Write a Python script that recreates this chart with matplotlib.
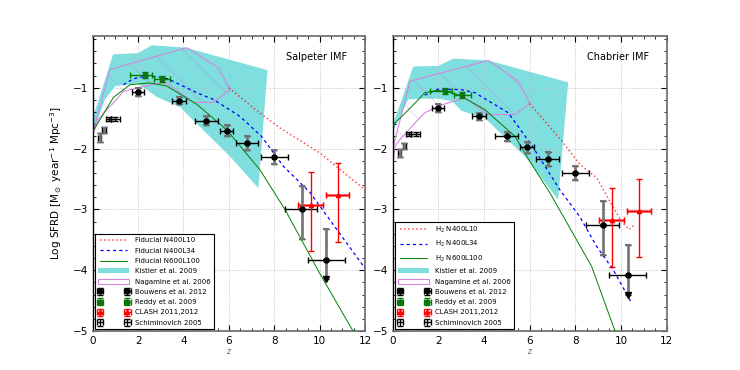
import matplotlib
matplotlib.use('Agg')
from matplotlib import pyplot as plt
from matplotlib.patches import Polygon, Patch
from matplotlib.ticker import MultipleLocator

# Kistler et al. 2009 band outline (Salpeter / Chabrier)
kistler_sal_z = [0.0, 0.9, 2.0, 2.6, 4.1, 7.7, 7.3, 6.05, 3.85, 2.82, 2.0, 1.0, 0.54, 0.0]
kistler_sal_y = [-1.5, -0.45, -0.43, -0.30, -0.34, -0.71, -2.65, -2.13, -1.32, -1.15, -0.93, -0.97, -1.19, -1.75]
kistler_cha_z = [0.0, 0.9, 2.0, 2.65, 4.19, 7.69, 7.25, 5.8, 4.04, 3.02, 2.6, 2.0, 1.27, 0.68, 0.0]
kistler_cha_y = [-1.62, -0.65, -0.64, -0.52, -0.55, -0.91, -2.84, -2.13, -1.5, -1.38, -1.22, -1.18, -1.18, -1.19, -1.72]

# Nagamine et al. 2006 outline
nag_sal_z = [0.0, 0.76, 4.14, 5.53, 6.05, 5.31, 4.43, 3.26, 2.8, 1.35, 0.91, 0.62, 0.25, 0.0]
nag_sal_y = [-1.75, -0.70, -0.34, -0.67, -1.03, -1.24, -1.24, -0.92, -0.93, -1.06, -1.25, -1.36, -1.52, -1.78]
nag_cha_z = [0.0, 0.76, 4.19, 5.5, 6.01, 5.36, 4.19, 3.17, 2.0, 1.41, 1.12, 0.32, 0.1, 0.0]
nag_cha_y = [-2.0, -0.89, -0.55, -0.89, -1.26, -1.44, -1.44, -1.16, -1.3, -1.41, -1.52, -1.85, -1.96, -2.3]

# simulations, Salpeter panel
l10_sal_z = [6.0, 7.07, 8.25, 10.0, 12.0]
l10_sal_y = [-1.0, -1.33, -1.66, -2.07, -2.68]
l34_sal_z = [1.35, 1.8, 2.5, 3.3, 4.58, 5.31, 5.9, 6.49, 7.44, 8.4, 9.57, 12.0]
l34_sal_y = [-0.95, -0.85, -0.8, -0.85, -1.08, -1.19, -1.33, -1.47, -1.8, -2.29, -2.72, -3.97]
l100_sal_z = [0.0, 0.91, 1.64, 2.52, 3.26, 4.58, 5.9, 7.37, 8.47, 10.0, 11.5]
l100_sal_y = [-1.72, -1.16, -0.95, -0.92, -0.97, -1.27, -1.69, -2.35, -3.0, -4.05, -5.02]

# simulations, Chabrier panel
l10_cha_z = [6.0, 7.4, 8.2, 8.94, 9.52, 10.03, 10.37, 10.6]
l10_cha_y = [-1.26, -1.87, -2.26, -2.48, -2.87, -3.2, -3.33, -3.25]
l34_cha_z = [1.4, 2.0, 3.0, 3.6, 5.06, 6.1, 7.33, 8.2, 8.94, 9.66, 10.47]
l34_cha_y = [-1.12, -1.02, -1.03, -1.08, -1.41, -1.95, -2.68, -3.12, -3.61, -3.99, -4.54]
l100_cha_z = [0.0, 0.98, 1.41, 2.0, 2.87, 4.04, 5.36, 6.01, 6.89, 7.77, 8.72, 9.78]
l100_cha_y = [-1.62, -1.25, -1.08, -1.04, -1.11, -1.36, -1.8, -2.21, -2.73, -3.31, -3.94, -5.04]

# Bouwens et al. 2012
bouwens_z = [2.0, 3.8, 5.0, 5.9, 6.8, 8.0, 9.2, 10.3]
bouwens_zlo = [0.27, 0.32, 0.5, 0.3, 0.5, 0.6, 0.73, 0.8]
bouwens_zhi = [0.25, 0.31, 0.5, 0.3, 0.5, 0.6, 0.7, 0.8]
bouwens_sal = [-1.07, -1.21, -1.54, -1.71, -1.91, -2.14, -2.99, -3.83]
bouwens_sal_lo = [0.06, 0.06, 0.08, 0.09, 0.12, 0.12, 0.5, 0.32]
bouwens_sal_hi = [0.06, 0.06, 0.08, 0.09, 0.12, 0.12, 0.37, 0.51]
bouwens_cha = [-1.33, -1.47, -1.8, -1.98, -2.17, -2.4, -3.25, -4.08]
bouwens_cha_lo = [0.06, 0.06, 0.08, 0.09, 0.12, 0.12, 0.5, 0.32]
bouwens_cha_hi = [0.06, 0.06, 0.08, 0.09, 0.12, 0.12, 0.38, 0.5]

# Reddy et al. 2009
reddy_z = [2.3, 3.05]
reddy_zlo = [0.66, 0.37]
reddy_zhi = [0.3, 0.36]
reddy_sal = [-0.79, -0.86]
reddy_cha = [-1.06, -1.12]
reddy_err = [0.05, 0.05]

# CLASH 2011, 2012
clash_z = [9.6, 10.8]
clash_zlo = [0.54, 0.52]
clash_zhi = [0.53, 0.5]
clash_sal = [-2.92, -2.77]
clash_cha = [-3.18, -3.03]
clash_lo = [0.76, 0.76]
clash_hi = [0.53, 0.53]

# Schiminovich 2005
sch_z = [0.3, 0.5, 0.7, 1.0]
sch_zerr = [0.07, 0.07, 0.1, 0.2]
sch_sal = [-1.82, -1.69, -1.51, -1.51]
sch_cha = [-2.07, -1.96, -1.76, -1.76]
sch_err = [0.07, 0.05, 0.03, 0.03]

panels = [
    dict(kz=kistler_sal_z, ky=kistler_sal_y, nz=nag_sal_z, ny=nag_sal_y,
         lines=[(l10_sal_z, l10_sal_y), (l34_sal_z, l34_sal_y), (l100_sal_z, l100_sal_y)],
         bouwens=(bouwens_sal, bouwens_sal_lo, bouwens_sal_hi),
         reddy=reddy_sal, clash=clash_sal, sch=sch_sal,
         title='Salpeter IMF', prefix='Fiducial'),
    dict(kz=kistler_cha_z, ky=kistler_cha_y, nz=nag_cha_z, ny=nag_cha_y,
         lines=[(l10_cha_z, l10_cha_y), (l34_cha_z, l34_cha_y), (l100_cha_z, l100_cha_y)],
         bouwens=(bouwens_cha, bouwens_cha_lo, bouwens_cha_hi),
         reddy=reddy_cha, clash=clash_cha, sch=sch_cha,
         title='Chabrier IMF', prefix='H$_2$'),
]
sim_names = ['N400L10', 'N400L34', 'N600L100']
sim_styles = [dict(color='r', ls=':', lw=1.1, alpha=0.7),
              dict(color='b', ls='--', lw=0.9, dashes=(2.5, 2.5)),
              dict(color='g', ls='-', lw=0.7)]

fig = plt.figure(figsize=(7.4, 3.7), dpi=100)
axes = [fig.add_axes([0.1253, 0.1054, 0.368, 0.797]),
        fig.add_axes([0.5307, 0.1054, 0.370, 0.797])]

for ax, p in zip(axes, panels):
    kist = Polygon(list(zip(p['kz'], p['ky'])), closed=True, facecolor='c',
                   alpha=0.5, edgecolor='none', zorder=1)
    ax.add_patch(kist)
    hatch = Polygon(list(zip(p['nz'], p['ny'])), closed=True, fill=False,
                    hatch='\\', edgecolor=(0.75, 0.45, 0.85, 0.2), lw=0, zorder=2)
    ax.add_patch(hatch)
    nag = Polygon(list(zip(p['nz'], p['ny'])), closed=True, fill=False,
                  edgecolor='#d585e0', lw=0.8, zorder=2)
    ax.add_patch(nag)

    handles = []
    for (zz, yy), name, st in zip(p['lines'], sim_names, sim_styles):
        h, = ax.plot(zz, yy, label=p['prefix'] + ' ' + name, zorder=3, **st)
        handles.append(h)
    handles.append(Patch(facecolor='c', alpha=0.5, edgecolor='none',
                         label='Kistler et al. 2009'))
    handles.append(Patch(facecolor='none', edgecolor='#d585e0', lw=0.8,
                         label='Nagamine et al. 2006'))

    by, blo, bhi = p['bouwens']
    hb = ax.errorbar(bouwens_z, by, xerr=[bouwens_zlo, bouwens_zhi], yerr=[blo, bhi],
                     fmt='o', color='k', ms=3.5, elinewidth=1.0, capsize=2,
                     label='Bouwens et al. 2012', zorder=5)
    ax.errorbar(bouwens_z, by, yerr=[blo, bhi], fmt='none', ecolor='0.45',
                elinewidth=1.8, capsize=2, capthick=1.5, zorder=6)
    ax.plot(bouwens_z, by, 'o', color='k', ms=3.5, zorder=7)
    ax.plot(bouwens_z[-1:], [by[-1] - blo[-1]], 'v', color='k', ms=4, zorder=7)

    hr = ax.errorbar(reddy_z, p['reddy'], xerr=[reddy_zlo, reddy_zhi], yerr=reddy_err,
                     fmt='s', color='g', ms=3.5, mec='#1a6b1a', elinewidth=1.0,
                     capsize=2, label='Reddy et al. 2009', zorder=5)

    hc = ax.errorbar(clash_z, p['clash'], xerr=[clash_zlo, clash_zhi],
                     yerr=[clash_lo, clash_hi], fmt='^', color='r', ms=3,
                     elinewidth=1.0, capsize=2, label='CLASH 2011,2012', zorder=5)
    ax.errorbar(clash_z, p['clash'], xerr=[clash_zlo, clash_zhi], fmt='none',
                ecolor='#ff7070', elinewidth=2.0, capsize=2, zorder=4)

    hs = ax.errorbar(sch_z, p['sch'], xerr=sch_zerr, yerr=sch_err, fmt='none',
                     ecolor='k', elinewidth=1.0, capsize=2,
                     label='Schiminovich 2005', zorder=5)
    ax.errorbar(sch_z[:2], p['sch'][:2], yerr=sch_err[:2], fmt='none',
                ecolor='0.45', elinewidth=1.8, capsize=2, zorder=6)
    handles += [hb, hr, hc, hs]

    ax.set_xlim(0, 12)
    ax.set_ylim(-5, -0.15)
    ax.xaxis.set_major_locator(MultipleLocator(2))
    ax.xaxis.set_minor_locator(MultipleLocator(0.5))
    ax.yaxis.set_major_locator(MultipleLocator(1))
    ax.yaxis.set_minor_locator(MultipleLocator(0.2))
    ax.tick_params(which='both', direction='in', top=True, right=True, labelsize=7.5)
    ax.tick_params(which='major', length=4, width=0.8)
    ax.tick_params(which='minor', length=2, width=0.6)
    ax.grid(True, which='major', ls=':', color='0.72', lw=0.6)
    for s in ax.spines.values():
        s.set_color('0.45')
        s.set_linewidth(1.3)
    ax.spines['left'].set_color('k')
    ax.spines['left'].set_linewidth(1.0)

    ax.text(0.71, 0.93, p['title'], transform=ax.transAxes, ha='left',
            va='center', fontsize=7)
    ax.set_xlabel('$z$', fontsize=5.5, color='0.4', labelpad=1)

    leg = ax.legend(handles=handles, loc='lower left', fontsize=5, numpoints=2,
                    fancybox=False, framealpha=1, edgecolor='k', handlelength=4.5,
                    labelspacing=0.62, borderaxespad=0.3, borderpad=0.45)
    leg.get_frame().set_linewidth(0.8)
    leg.set_zorder(10)

axes[0].set_ylabel(r'Log SFRD [M$_\odot$ year$^{-1}$ Mpc$^{-3}$]', fontsize=7.5, labelpad=6)

fig.savefig('out.png', dpi=100)
